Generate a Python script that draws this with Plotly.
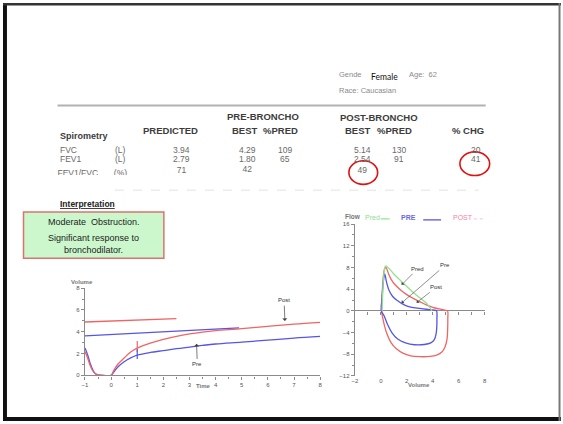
import plotly.graph_objects as go

W, H = 563, 424


def px(x):
    return x / W


def py(y):
    return 1 - y / H


# ---------------- data ----------------
gender = "Female"
age = "62"
race = "Caucasian"

spiro_params = ["FVC", "FEV1", "FEV1/FVC"]
spiro_units = ["(L)", "(L)", "(%)"]
predicted = ["3.94", "2.79", "71"]
pre_best = ["4.29", "1.80", "42"]
pre_pct = ["109", "65", ""]
post_best = ["5.14", "2.54", "49"]
post_pct = ["130", "91", ""]
pct_chg = ["20", "41", ""]

interp_lines = ["Moderate  Obstruction.", "Significant response to<br>bronchodilator."]

# Volume-time curves
vt_time_pre = [-1, -0.9, -0.8, -0.7, -0.6, -0.5, -0.3, 0, 0.1, 0.25, 0.5, 0.75, 1, 1.5, 2, 2.5, 3, 3.5, 4, 5, 6, 7, 8]
vt_vol_pre = [2.5, 1.9, 1.1, 0.5, 0.15, 0.05, 0.0, 0.0, 0.3, 0.75, 1.25, 1.6, 1.85, 2.1, 2.27, 2.45, 2.6, 2.75, 2.88, 3.05, 3.23, 3.42, 3.57]
vt_time_post = [-1, -0.9, -0.8, -0.7, -0.6, -0.5, -0.3, 0, 0.1, 0.25, 0.5, 0.75, 1, 1.5, 2, 2.5, 3, 3.5, 4, 5, 6, 7, 8]
vt_vol_post = [2.2, 1.6, 0.9, 0.4, 0.15, 0.05, 0.0, 0.0, 0.45, 1.0, 1.6, 2.15, 2.5, 2.95, 3.3, 3.58, 3.8, 3.97, 4.1, 4.28, 4.5, 4.7, 4.86]
vt_insp_time_pre = [-1, 4.9]
vt_insp_vol_pre = [3.62, 4.35]
vt_insp_time_post = [-1, 2.5]
vt_insp_vol_post = [4.9, 5.2]
vt_mark_time = [1]
vt_mark_vol_pre = [1.95]
vt_mark_vol_post = [2.65]

# Flow-volume curves
fv_vol_pred = [0.1, 0.25, 0.38, 1.0, 1.65, 2.5, 3.0, 3.56, 3.94]
fv_flow_pred = [0, 7.0, 8.3, 6.8, 5.3, 3.4, 2.4, 1.3, 0]

fv_vol_post = [0.05, 0.1, 0.2, 0.3, 0.4, 0.6, 0.8, 1.0, 1.5, 2.0, 2.5, 3.0, 3.5, 4.0, 4.5, 5.0, 5.14,
               5.16, 5.15, 5.1, 4.95, 4.7, 4.3, 3.8, 3.0, 2.3, 1.7, 1.2, 0.8, 0.5, 0.3, 0.15, 0.05]
fv_flow_post = [0, 3.0, 6.5, 7.8, 8.0, 6.8, 5.8, 5.1, 3.9, 3.0, 2.3, 1.7, 1.1, 0.65, 0.35, 0.1, 0,
                -1.5, -3.3, -5.2, -6.6, -7.6, -8.15, -8.4, -8.45, -8.3, -7.8, -7.0, -5.9, -4.4, -2.9, -1.3, 0]

fv_vol_pre = [0.05, 0.1, 0.2, 0.3, 0.45, 0.64, 0.9, 1.27, 1.8, 2.3, 3.0, 3.5, 4.1, 4.29,
              4.32, 4.31, 4.26, 4.12, 3.85, 3.35, 2.6, 1.9, 1.3, 0.85, 0.5, 0.25, 0.05]
fv_flow_pre = [0, 2.5, 5.5, 6.8, 5.2, 3.75, 2.7, 1.9, 1.1, 0.7, 0.45, 0.3, 0.15, 0,
               -1.5, -3.0, -4.2, -5.3, -5.9, -6.2, -6.25, -5.9, -5.2, -4.0, -2.4, -0.9, 0]

# arrow labels: (text, tip x, tip y, label x, label y)
vt_arrows = [("Post", 6.65, 5.0, 6.62, 6.9), ("Pre", 3.27, 2.9, 3.3, 1.0)]
fv_arrows = [("Pred", 1.6, 4.8, 2.85, 7.8), ("Pre", 1.6, 1.45, 4.96, 8.4), ("Post", 2.75, 1.5, 4.27, 4.36)]

vt_xticks = [-1, 0, 1, 2, 3, 4, 5, 6, 7, 8]
vt_yticks = [0, 2, 4, 6, 8]
fv_xticks = [-2, 0, 2, 4, 6, 8]
fv_yticks = [-12, -8, -4, 0, 4, 8, 12, 16]

# ---------------- colours / fonts ----------------
RED = "#f06464"
BLUE = "#5555e6"
GREEN = "#90e290"
FONT = "Liberation Sans"
HEAD = "#3c3c3c"
BODY = "#6a6a6a"
AX = "#8a8a8a"

fig = go.Figure()

# volume-time traces
fig.add_trace(go.Scatter(x=vt_insp_time_post, y=vt_insp_vol_post, mode="lines",
                         line=dict(color=RED, width=1.3), xaxis="x", yaxis="y"))
fig.add_trace(go.Scatter(x=vt_insp_time_pre, y=vt_insp_vol_pre, mode="lines",
                         line=dict(color=BLUE, width=1.3), xaxis="x", yaxis="y"))
fig.add_trace(go.Scatter(x=vt_time_pre, y=vt_vol_pre, mode="lines", line_shape="spline",
                         line=dict(color=BLUE, width=1.3), xaxis="x", yaxis="y"))
fig.add_trace(go.Scatter(x=vt_time_post, y=vt_vol_post, mode="lines", line_shape="spline",
                         line=dict(color=RED, width=1.3), xaxis="x", yaxis="y"))
fig.add_trace(go.Scatter(x=vt_mark_time, y=vt_mark_vol_post, mode="markers",
                         marker=dict(symbol="line-ns", size=8, line=dict(color=RED, width=1.2)),
                         xaxis="x", yaxis="y", cliponaxis=False))
fig.add_trace(go.Scatter(x=vt_mark_time, y=vt_mark_vol_pre, mode="markers",
                         marker=dict(symbol="line-ns", size=7, line=dict(color=BLUE, width=1.2)),
                         xaxis="x", yaxis="y", cliponaxis=False))

# flow-volume traces
fig.add_trace(go.Scatter(x=fv_vol_pred, y=fv_flow_pred, mode="lines", line_shape="spline",
                         line=dict(color=GREEN, width=1.3), xaxis="x4", yaxis="y2"))
fig.add_trace(go.Scatter(x=fv_vol_post, y=fv_flow_post, mode="lines", line_shape="spline",
                         line=dict(color=RED, width=1.3), xaxis="x2", yaxis="y2"))
fig.add_trace(go.Scatter(x=fv_vol_pre, y=fv_flow_pre, mode="lines", line_shape="spline",
                         line=dict(color=BLUE, width=1.3), xaxis="x2", yaxis="y2"))

# third spirometry row, clipped like the original slide
row3_x = [55, 118.5, 180, 246.5, 362.5]
row3_y = [173.5, 173.5, 170, 169.5, 170.5]
row3_txt = [spiro_params[2], spiro_units[2], predicted[2], pre_best[2], post_best[2]]
row3_pos = ["middle right", "middle center", "middle center", "middle center", "middle center"]
fig.add_trace(go.Scatter(x=row3_x, y=row3_y, mode="text", text=row3_txt,
                         textposition=row3_pos,
                         textfont=dict(family=FONT, size=8.5, color=BODY),
                         xaxis="x3", yaxis="y3", cliponaxis=True))

tickfont = dict(family=FONT, size=6, color="#555")

fig.update_layout(
    width=W, height=H, margin=dict(l=0, r=0, t=0, b=0),
    paper_bgcolor="white", plot_bgcolor="rgba(0,0,0,0)", showlegend=False,
    xaxis=dict(domain=[px(82.7), px(320)], range=[-1, 8], anchor="y",
               showline=True, linecolor=AX, linewidth=1.3, showgrid=False, zeroline=False,
               tickvals=vt_xticks, ticks="outside", ticklen=3, tickcolor=AX, tickfont=tickfont,
               minor=dict(dtick=0.5, ticks="outside", ticklen=2, tickcolor=AX)),
    yaxis=dict(domain=[py(377.7), py(289.3)], range=[0, 8], anchor="x",
               showline=True, linecolor=AX, linewidth=1.3, showgrid=False, zeroline=False,
               tickvals=vt_yticks, ticks="outside", ticklen=3, tickcolor=AX, tickfont=tickfont,
               minor=dict(dtick=1, ticks="outside", ticklen=2, tickcolor=AX)),
    xaxis2=dict(domain=[px(355), px(486)], range=[-2, 8], anchor="y2",
                showline=False, showgrid=False, zeroline=False, ticks="",
                tickvals=fv_xticks, tickfont=tickfont),
    yaxis2=dict(domain=[py(378.3), py(224.3)], range=[-12, 16], anchor="x2",
                showline=True, linecolor=AX, linewidth=1.3, showgrid=False,
                zeroline=True, zerolinecolor=AX, zerolinewidth=1.3,
                tickvals=fv_yticks, ticks="outside", ticklen=3, tickcolor=AX, tickfont=tickfont,
                minor=dict(dtick=2, ticks="outside", ticklen=2, tickcolor=AX)),
    xaxis4=dict(overlaying="x2", anchor="free", position=py(312.3), range=[-2, 8],
                showline=False, showgrid=False, zeroline=False, showticklabels=False,
                dtick=1, ticks="outside", ticklen=3, tickcolor=AX),
    xaxis3=dict(domain=[0, 1], range=[0, W], anchor="y3", visible=False),
    yaxis3=dict(domain=[py(174.5), 1], range=[174.5, 0], anchor="x3", visible=False),
)

shapes = []
# slide frame
shapes.append(dict(type="rect", xref="paper", yref="paper", x0=0, x1=px(4), y0=0, y1=1,
                   fillcolor="#111", line_width=0))
shapes.append(dict(type="rect", xref="paper", yref="paper", x0=0, x1=1, y0=py(2.5), y1=1,
                   fillcolor="#333", line_width=0))
shapes.append(dict(type="rect", xref="paper", yref="paper", x0=0, x1=1, y0=0, y1=py(420),
                   fillcolor="#111", line_width=0))
shapes.append(dict(type="rect", xref="paper", yref="paper", x0=px(560.5), x1=px(562.5), y0=0, y1=1,
                   fillcolor="#777", line_width=0))
# header rule
shapes.append(dict(type="line", xref="paper", yref="paper", x0=px(55), x1=px(487), y0=py(104), y1=py(104),
                   line=dict(color="#b2b2b2", width=2)))
# faint dotted remnant row
shapes.append(dict(type="line", xref="paper", yref="paper", x0=px(113), x1=px(480), y0=py(190), y1=py(190),
                   line=dict(color="#ececec", width=1.5, dash="dash")))
# interpretation box
shapes.append(dict(type="rect", xref="paper", yref="paper", x0=px(20.7), x1=px(162.3), y0=py(259), y1=py(212),
                   fillcolor="#ccf7cc", line=dict(color="#d8746f", width=1.5)))
# red circles
shapes.append(dict(type="circle", xref="paper", yref="paper", x0=px(349), x1=px(378), y0=py(184), y1=py(160),
                   line=dict(color="#e01010", width=1.6)))
shapes.append(dict(type="circle", xref="paper", yref="paper", x0=px(461), x1=px(491), y0=py(175), y1=py(151),
                   line=dict(color="#e01010", width=1.6)))
# flow-volume legend line samples
shapes.append(dict(type="line", xref="paper", yref="paper", x0=px(381), x1=px(392), y0=py(219), y1=py(219),
                   line=dict(color=GREEN, width=1.2, dash="dash")))
shapes.append(dict(type="line", xref="paper", yref="paper", x0=px(424), x1=px(442), y0=py(220), y1=py(220),
                   line=dict(color=BLUE, width=1.3)))
shapes.append(dict(type="line", xref="paper", yref="paper", x0=px(475), x1=px(487), y0=py(219), y1=py(219),
                   line=dict(color="#f7cdd8", width=1.2, dash="dot")))
fig.update_layout(shapes=shapes)

ann = []


def text(x, y, s, size=8.5, color=BODY, bold=False, xanchor="center", family=FONT):
    if bold:
        s = "<b>" + s + "</b>"
    ann.append(dict(xref="paper", yref="paper", x=px(x), y=py(y), text=s, showarrow=False,
                    xanchor=xanchor, yanchor="middle",
                    font=dict(family=family, size=size, color=color)))


# patient info
text(337, 73, "Gende", 7.5, "#8a8a8a", xanchor="left")
text(369, 75, gender, 8.5, "#111", xanchor="left", family="Lato")
text(408, 73, "Age:  " + age, 7.5, "#8a8a8a", xanchor="left")
text(337, 89, "Race: " + race, 7.5, "#8a8a8a", xanchor="left")

# table headers
text(262.5, 115, "PRE-BRONCHO", 9.5, HEAD, True)
text(379.7, 116, "POST-BRONCHO", 9.5, HEAD, True)
text(168.7, 129.5, "PREDICTED", 9.5, HEAD, True)
text(244, 129, "BEST", 9.5, HEAD, True)
text(280, 129, "%PRED", 9.5, HEAD, True)
text(358, 129.3, "BEST", 9.5, HEAD, True)
text(395, 129.3, "%PRED", 9.5, HEAD, True)
text(469, 129.3, "% CHG", 9.5, HEAD, True)
text(55, 135, "Spirometry", 9, HEAD, True, xanchor="left")

row_y = [149, 158.5]
for i, yy in enumerate(row_y):
    text(55, yy, spiro_params[i], 8.5, BODY, xanchor="left")
    text(118.5, yy, spiro_units[i], 8.5, BODY)
    text(180, yy, predicted[i], 8.5, BODY)
    text(246.5, yy, pre_best[i], 8.5, BODY)
    text(285, yy, pre_pct[i], 8.5, BODY)
    text(362.5, yy, post_best[i], 8.5, BODY)
    text(400, yy, post_pct[i], 8.5, BODY)
    text(477, yy, pct_chg[i], 8.5, BODY)

# interpretation
text(55, 204, "<u><b>Interpretation</b></u>", 8.5, "#222", xanchor="left")
text(91.5, 221.7, interp_lines[0], 9, "#222")
ann.append(dict(xref="paper", yref="paper", x=px(91.5), y=py(244), text=interp_lines[1], showarrow=False,
                xanchor="center", yanchor="middle", align="center",
                font=dict(family=FONT, size=9, color="#222")))

# axis titles
text(79.5, 282.5, "<b>Volume</b>", 6, "#777")
text(202.7, 389, "<b>Time</b>", 6, "#777")
text(353, 217, "<b>Flow</b>", 6.5, "#777")
text(420, 387.5, "<b>Volume</b>", 6, "#777")
# flow-volume legend words
text(372.5, 218, "Pred", 7, "#8fe08f")
text(409, 218, "PRE", 7, "#6a6ae6", True)
text(464, 218, "POST", 7, "#ec86a6")

# arrow annotations
for lab, tx, ty, lx, ly in vt_arrows:
    ann.append(dict(x=tx, y=ty, ax=lx, ay=ly, xref="x", yref="y", axref="x", ayref="y",
                    text=lab, showarrow=True, arrowhead=1, arrowsize=1.2, arrowwidth=0.7,
                    arrowcolor="#444", standoff=0, startstandoff=1,
                    font=dict(family=FONT, size=6, color="#333")))
for lab, tx, ty, lx, ly in fv_arrows:
    ann.append(dict(x=tx, y=ty, ax=lx, ay=ly, xref="x2", yref="y2", axref="x2", ayref="y2",
                    text=lab, showarrow=True, arrowhead=1, arrowsize=1.2, arrowwidth=0.6,
                    arrowcolor="#444", standoff=0, startstandoff=1,
                    font=dict(family=FONT, size=6, color="#333")))

fig.update_layout(annotations=ann)

post_js = (
    "document.documentElement.style.margin='0';"
    "document.documentElement.style.overflow='hidden';"
    "document.body.style.margin='0';document.body.style.padding='0';"
    "document.body.style.overflow='hidden';"
    "var gd=document.getElementById('{plot_id}');"
    "if(gd&&gd.parentElement){gd.parentElement.style.height='424px';"
    "gd.parentElement.style.overflow='hidden';gd.parentElement.style.display='block';}"
    "window.scrollTo(0,0);"
)
fig.write_html("out.html", config={"displayModeBar": False}, post_script=post_js)
